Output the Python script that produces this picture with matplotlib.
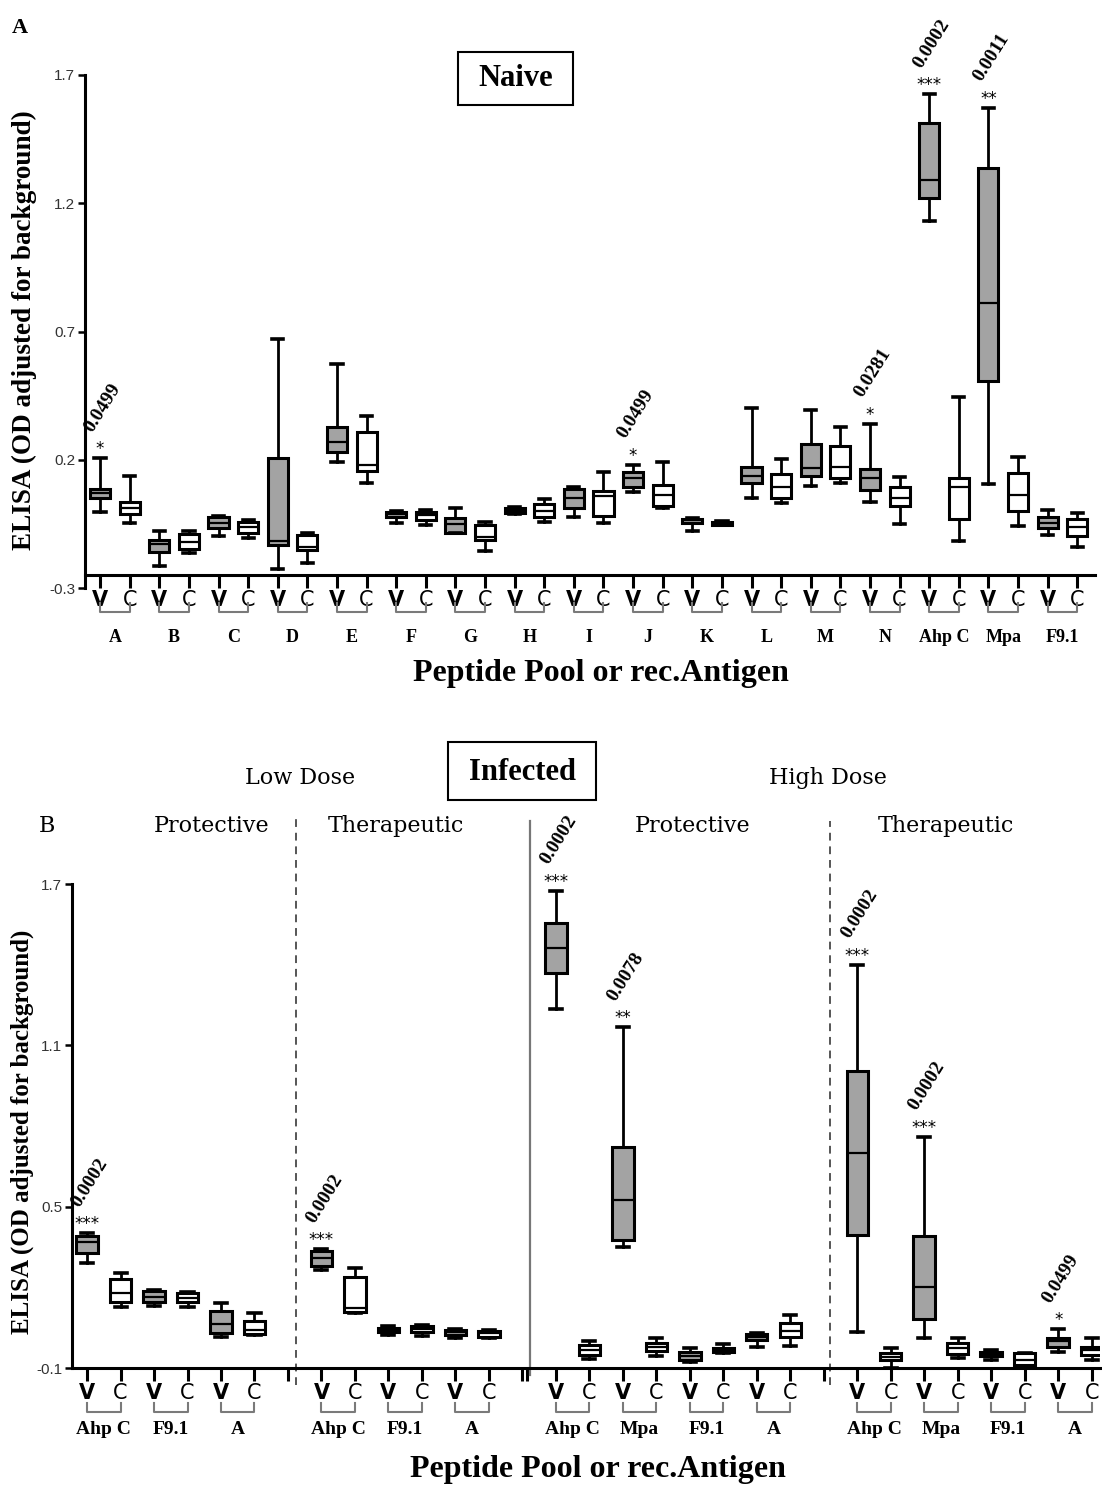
import numpy as np
import matplotlib.pyplot as plt
from matplotlib.patches import Rectangle
from matplotlib.transforms import blended_transform_factory

plt.rcParams['font.family'] = ['Liberation Serif', 'DejaVu Serif']

# ---------------- panel A : naive ----------------
top_groups = ['A', 'B', 'C', 'D', 'E', 'F', 'G', 'H', 'I', 'J', 'K', 'L', 'M', 'N', 'Ahp C', 'Mpa', 'F9.1']
# boxes in order V, C for every group
top_whishi = [0.205, 0.138, -0.077, -0.077, -0.019, -0.035, 0.670, -0.084, 0.573, 0.371,
              0.001, 0.004, 0.011, -0.044, 0.017, 0.046, 0.095, 0.153, 0.179, 0.192,
              -0.026, -0.039, 0.400, 0.202, 0.394, 0.326, 0.339, 0.134, 1.624, 0.446,
              1.572, 0.212, 0.004, -0.009]
top_q3 = [0.086, 0.034, -0.113, -0.091, -0.024, -0.042, 0.205, -0.093, 0.329, 0.309,
          -0.003, -0.003, -0.028, -0.055, 0.013, 0.026, 0.085, 0.079, 0.153, 0.101,
          -0.030, -0.042, 0.173, 0.144, 0.260, 0.253, 0.163, 0.095, 1.513, 0.127,
          1.339, 0.147, -0.022, -0.031]
top_med = [0.069, 0.013, -0.129, -0.120, -0.045, -0.063, -0.116, -0.141, 0.268, 0.179,
           -0.012, -0.016, -0.052, -0.100, 0.001, 0.001, 0.050, 0.058, 0.127, 0.062,
           -0.035, -0.048, 0.136, 0.095, 0.169, 0.170, 0.127, 0.050, 1.290, 0.095,
           0.813, 0.062, -0.045, -0.061]
top_q1 = [0.050, -0.012, -0.158, -0.148, -0.067, -0.084, -0.132, -0.152, 0.229, 0.156,
          -0.024, -0.035, -0.087, -0.113, -0.009, -0.022, 0.011, -0.018, 0.095, 0.021,
          -0.045, -0.055, 0.110, 0.050, 0.136, 0.130, 0.082, 0.021, 1.222, -0.032,
          0.507, 0.001, -0.067, -0.096]
top_whislo = [-0.005, -0.048, -0.213, -0.162, -0.097, -0.106, -0.226, -0.204, 0.192, 0.108,
              -0.048, -0.055, -0.087, -0.156, -0.012, -0.044, -0.022, -0.048, 0.075, 0.011,
              -0.077, -0.055, 0.050, 0.030, 0.098, 0.108, 0.034, -0.050, 1.130, -0.117,
              0.104, -0.057, -0.093, -0.139]
# (box index, stars, p value)
top_marks = [(0, '*', '0.0499'), (18, '*', '0.0499'), (26, '*', '0.0281'),
             (28, '***', '0.0002'), (30, '**', '0.0011')]

# ---------------- panel B : infected ----------------
bot_sections = [['Ahp C', 'F9.1', 'A'], ['Ahp C', 'F9.1', 'A'],
                ['Ahp C', 'Mpa', 'F9.1', 'A'], ['Ahp C', 'Mpa', 'F9.1', 'A']]
bot_whishi = [0.401, 0.254, 0.190, 0.184, 0.143, 0.103,
              0.341, 0.271, 0.056, 0.060, 0.044, 0.041,
              1.674, 0.002, 1.167, 0.013, -0.027, -0.012, 0.029, 0.097,
              1.399, -0.027, 0.760, 0.013, -0.033, -0.043, 0.044, 0.013]
bot_q3 = [0.391, 0.231, 0.186, 0.180, 0.112, 0.075,
          0.335, 0.240, 0.050, 0.056, 0.041, 0.038,
          1.554, -0.014, 0.723, -0.006, -0.039, -0.027, 0.025, 0.068,
          1.004, -0.043, 0.391, -0.008, -0.042, -0.045, 0.013, -0.021]
bot_med = [0.370, 0.178, 0.165, 0.161, 0.063, 0.041,
           0.310, 0.122, 0.041, 0.044, 0.033, 0.029,
           1.463, -0.033, 0.525, -0.021, -0.055, -0.033, 0.016, 0.038,
           0.698, -0.058, 0.202, -0.027, -0.052, -0.070, 0.002, -0.033]
bot_q1 = [0.327, 0.144, 0.144, 0.144, 0.029, 0.025,
          0.280, 0.109, 0.033, 0.033, 0.023, 0.014,
          1.368, -0.052, 0.376, -0.036, -0.070, -0.042, 0.004, 0.014,
          0.395, -0.070, 0.081, -0.048, -0.055, -0.089, -0.021, -0.052]
bot_whislo = [0.289, 0.126, 0.132, 0.126, 0.016, 0.023,
              0.264, 0.106, 0.023, 0.020, 0.010, 0.010,
              1.234, -0.068, 0.351, -0.054, -0.079, -0.045, -0.021, -0.017,
              0.033, -0.099, 0.013, -0.064, -0.070, -0.099, -0.039, -0.070]
bot_marks = [(0, '***', '0.0002'), (6, '***', '0.0002'), (12, '***', '0.0002'),
             (14, '**', '0.0078'), (20, '***', '0.0002'), (22, '***', '0.0002'),
             (26, '*', '0.0499')]

GREY = '#a3a3a3'
W, H = 1102, 1489
fig = plt.figure(figsize=(W / 100, H / 100), dpi=100)


def fx(px):
    return px / W


def fy(py):
    return 1 - py / H


def draw_boxes(ax, pos, lo, q1, med, q3, hi, width, capw):
    stats = [dict(whislo=a, q1=b, med=c, q3=d, whishi=e, fliers=[])
             for a, b, c, d, e in zip(lo, q1, med, q3, hi)]
    bp = ax.bxp(stats, positions=pos, widths=width, patch_artist=True, showfliers=False,
                capwidths=capw, manage_ticks=False,
                boxprops=dict(linewidth=2.2, edgecolor='black'),
                whiskerprops=dict(linewidth=2.0, color='black'),
                capprops=dict(linewidth=2.6, color='black'),
                medianprops=dict(linewidth=1.6, color='black'))
    for i, patch in enumerate(bp['boxes']):
        patch.set_facecolor(GREY if i % 2 == 0 else 'white')


def style_axis(ax, yticks, fs_vc):
    for s in ['top', 'right']:
        ax.spines[s].set_visible(False)
    for s in ['left', 'bottom']:
        ax.spines[s].set_linewidth(2.2)
    ax.set_yticks(yticks)
    ax.set_yticklabels([f'{v:g}' for v in yticks], family='Liberation Sans', fontsize=11, color='#333333')
    ax.tick_params(axis='y', length=5, width=1.8, pad=2)
    ax.tick_params(axis='x', which='both', length=9, width=2.2, pad=2)
    for i, lab in enumerate(ax.get_xticklabels()):
        lab.set_family('DejaVu Sans')
        lab.set_fontsize(fs_vc)
        lab.set_fontweight('bold' if i % 2 == 0 else 'normal')


def brackets(ax, pos, groups, ytop, ybot, ylab, fs):
    tr = blended_transform_factory(ax.transData, ax.transAxes)
    for k, g in enumerate(groups):
        x0, x1 = pos[2 * k], pos[2 * k + 1]
        ax.plot([x0, x0, x1, x1], [ytop, ybot, ybot, ytop], color='#7a7a7a', lw=1.5,
                transform=tr, clip_on=False)
        ax.text((x0 + x1) / 2, ylab, g, transform=tr, ha='center', va='center',
                fontsize=fs, fontweight='bold')


def marks(ax, pos, hi, items, fs_p):
    for i, stars, p in items:
        ax.annotate(stars, (pos[i], hi[i]), xytext=(0, 0), textcoords='offset points',
                    ha='center', va='bottom', fontsize=12, family='DejaVu Sans',
                    annotation_clip=False)
        ax.annotate(p, (pos[i], hi[i]), xytext=(-3, 17), textcoords='offset points',
                    ha='left', va='bottom', rotation=58, rotation_mode='anchor',
                    fontsize=fs_p, fontweight='bold', annotation_clip=False)


# ---------- panel A ----------
ax1 = fig.add_axes([fx(85), fy(588), fx(1095) - fx(85), fy(75) - fy(588)])
pos1 = np.arange(len(top_med))
draw_boxes(ax1, pos1, top_whislo, top_q1, top_med, top_q3, top_whishi, 0.68, 0.38)
ax1.set_xlim(-0.51, 33.6)
ax1.set_ylim(-0.3, 1.7)
ax1.spines['bottom'].set_position(('data', -0.25))
ax1.spines['left'].set_bounds(-0.3, 1.7)
ax1.set_xticks(pos1)
ax1.set_xticklabels(['V', 'C'] * len(top_groups))
style_axis(ax1, [-0.3, 0.2, 0.7, 1.2, 1.7], 15)
brackets(ax1, pos1, top_groups, -0.029, -0.047, -0.097, 13)
marks(ax1, pos1, top_whishi, top_marks, 14)

# ---------- panel B ----------
ax2 = fig.add_axes([fx(72), fy(1368), fx(1100) - fx(72), fy(884) - fy(1368)])
starts = [0, 7, 14, 23]
pos2 = []
bot_groups = []
for s, grp in zip(starts, bot_sections):
    pos2 += list(s + np.arange(2 * len(grp)))
    bot_groups += grp
pos2 = np.array(pos2)
draw_boxes(ax2, pos2, bot_whislo, bot_q1, bot_med, bot_q3, bot_whishi, 0.64, 0.36)
ax2.set_xlim(-0.45, 30.25)
ax2.set_ylim(-0.1, 1.7)
ax2.set_xticks(pos2)
ax2.set_xticks([6, 13, 13.15, 22], minor=True)
ax2.set_xticklabels(['V', 'C'] * len(bot_groups))
style_axis(ax2, [-0.1, 0.5, 1.1, 1.7], 15)
brackets(ax2, pos2, bot_groups, -0.072, -0.091, -0.128, 14)
marks(ax2, pos2, bot_whishi, bot_marks, 14)

tr2 = blended_transform_factory(ax2.transData, ax2.transAxes)
ax2.plot([6.24, 6.24], [-0.035, 1.14], ls=(0, (4, 3)), color='#555555', lw=1.4,
         transform=tr2, clip_on=False)
ax2.plot([13.22, 13.22], [-0.015, 1.13], color='#777777', lw=1.6,
         transform=tr2, clip_on=False)
ax2.plot([22.18, 22.18], [-0.035, 1.13], ls=(0, (4, 3)), color='#555555', lw=1.4,
         transform=tr2, clip_on=False)

# ---------- texts ----------
fig.text(fx(20), fy(28), 'A', fontsize=16, fontweight='bold', ha='center', va='center')
fig.text(fx(47), fy(826), 'B', fontsize=16, family='DejaVu Serif', ha='center', va='center')

fig.text(fx(24), fy(330), 'ELISA (OD adjusted for background)', rotation=90, fontsize=19.5,
         fontweight='bold', ha='center', va='center')
fig.text(fx(22), fy(1132), 'ELISA (OD adjusted for background)', rotation=90, fontsize=18,
         fontweight='bold', ha='center', va='center')
fig.text(fx(601), fy(673), 'Peptide Pool or rec.Antigen', fontsize=23, fontweight='bold',
         ha='center', va='center')
fig.text(fx(598), fy(1470), 'Peptide Pool or rec.Antigen', fontsize=23, fontweight='bold',
         ha='center', va='center')

fig.add_artist(Rectangle((fx(458), fy(105)), fx(115), 53 / H, transform=fig.transFigure,
                         fill=False, lw=1.5, edgecolor='black'))
fig.text(fx(516), fy(79), 'Naive', fontsize=22, fontweight='bold', ha='center', va='center')
fig.add_artist(Rectangle((fx(448), fy(800)), fx(148), 58 / H, transform=fig.transFigure,
                         fill=False, lw=1.5, edgecolor='black'))
fig.text(fx(522), fy(772), 'Infected', fontsize=22, fontweight='bold', ha='center', va='center')

for x, y, s in [(300, 778, 'Low Dose'), (828, 778, 'High Dose'),
                (212, 826, 'Protective'), (396, 826, 'Therapeutic'),
                (693, 826, 'Protective'), (946, 826, 'Therapeutic')]:
    fig.text(fx(x), fy(y), s, fontsize=16, family='DejaVu Serif', ha='center', va='center')

fig.savefig('out.png', dpi=100)
